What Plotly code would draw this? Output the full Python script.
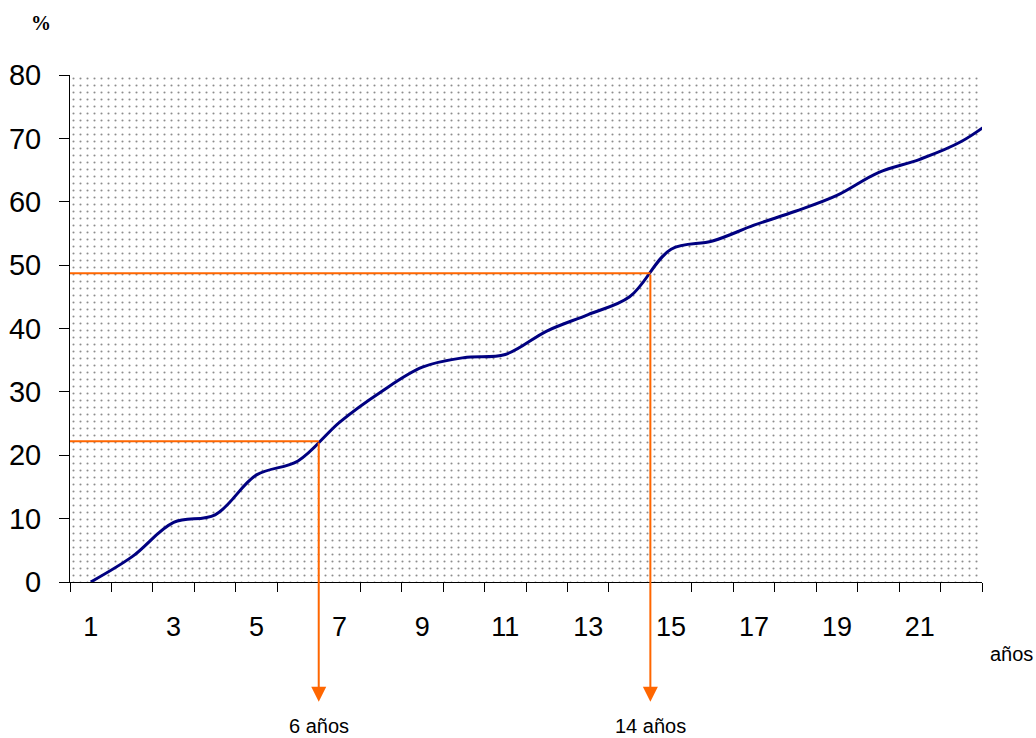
import plotly.graph_objects as go

# Cumulative percentage by year (category 23 runs past the right edge)
years = list(range(1, 24))
pct = [0.0, 4.0, 9.4, 10.6, 16.9, 19.1, 25.2, 30.0, 33.9, 35.4, 35.9, 39.6,
       42.2, 45.0, 52.5, 53.8, 56.3, 58.5, 61.0, 64.6, 66.7, 69.5, 74.0]

# Reference readings: year marked on the axis and the matching percentage
ref_years = [6, 14]
ref_pct = [22.2, 48.7]
ref_labels = ["6 años", "14 años"]

x_tick_vals = list(range(1, 22, 2))
x_tick_text = [str(v) for v in x_tick_vals]
y_tick_vals = list(range(0, 81, 10))

X_RANGE = [0.5, 22.5]
Y_RANGE = [0, 80]
ORANGE = "#FF6600"
FONT = "Arial, Liberation Sans, sans-serif"

fig = go.Figure()

# Dotted plot-area background
fig.add_trace(go.Scatter(
    x=[X_RANGE[0], X_RANGE[1], X_RANGE[1], X_RANGE[0], X_RANGE[0]],
    y=[Y_RANGE[0], Y_RANGE[0], Y_RANGE[1], Y_RANGE[1], Y_RANGE[0]],
    fill="toself", mode="none", fillcolor="white",
    fillpattern=dict(shape=".", size=7, solidity=0.07,
                     fgcolor="#1a1a1a", bgcolor="white"),
    hoverinfo="skip", showlegend=False,
))

# Main curve
fig.add_trace(go.Scatter(
    x=years, y=pct, mode="lines",
    line=dict(color="#000080", width=3, shape="spline", smoothing=1.0),
    showlegend=False,
))

shapes = []
annotations = []
for yr, p, lab in zip(ref_years, ref_pct, ref_labels):
    xpos = yr + 0.5  # end of year yr = boundary after category yr
    shapes.append(dict(type="line", xref="x", yref="y",
                       x0=X_RANGE[0], x1=xpos, y0=p, y1=p,
                       line=dict(color=ORANGE, width=2)))
    annotations.append(dict(
        xref="x", yref="y", x=xpos, y=-18.9,
        axref="x", ayref="y", ax=xpos, ay=p,
        text="", showarrow=True, arrowhead=2, arrowsize=1.5,
        arrowwidth=2, arrowcolor=ORANGE, standoff=0, startstandoff=0,
    ))
    annotations.append(dict(
        xref="x", yref="paper", x=xpos, y=-0.284,
        text=lab, showarrow=False, xanchor="center", yanchor="middle",
        font=dict(family=FONT, size=20, color="black"),
    ))

annotations.append(dict(
    xref="paper", yref="paper", x=1.0318, y=-0.142, text="años",
    showarrow=False, xanchor="center", yanchor="middle",
    font=dict(family=FONT, size=20, color="black"),
))
annotations.append(dict(
    xref="paper", yref="paper", x=-0.032, y=1.103, text="<b>%</b>",
    showarrow=False, xanchor="center", yanchor="middle",
    font=dict(family="Liberation Serif, Times New Roman, serif", size=20,
              color="black"),
))

fig.update_layout(
    width=1036, height=738,
    margin=dict(l=70, r=54, t=75, b=156),
    paper_bgcolor="white", plot_bgcolor="white",
    shapes=shapes, annotations=annotations,
    xaxis=dict(
        range=X_RANGE, showgrid=False, zeroline=False, automargin=False,
        showline=True, linecolor="black", linewidth=1,
        tickmode="array", tickvals=x_tick_vals, ticktext=x_tick_text,
        ticks="", tickfont=dict(family=FONT, size=27, color="black"),
        ticklabelstandoff=21,
        minor=dict(tickmode="array",
                   tickvals=[v + 0.5 for v in range(0, 23)],
                   ticks="outside", ticklen=9, tickwidth=1,
                   tickcolor="black", showgrid=False),
    ),
    yaxis=dict(
        range=Y_RANGE, showgrid=False, zeroline=False, automargin=False,
        showline=True, linecolor="black", linewidth=1,
        tickmode="array", tickvals=y_tick_vals,
        ticks="outside", ticklen=10, tickwidth=1, tickcolor="black",
        tickfont=dict(family=FONT, size=29, color="black"),
        ticklabelstandoff=12,
    ),
)

fig.write_html("out.html")
